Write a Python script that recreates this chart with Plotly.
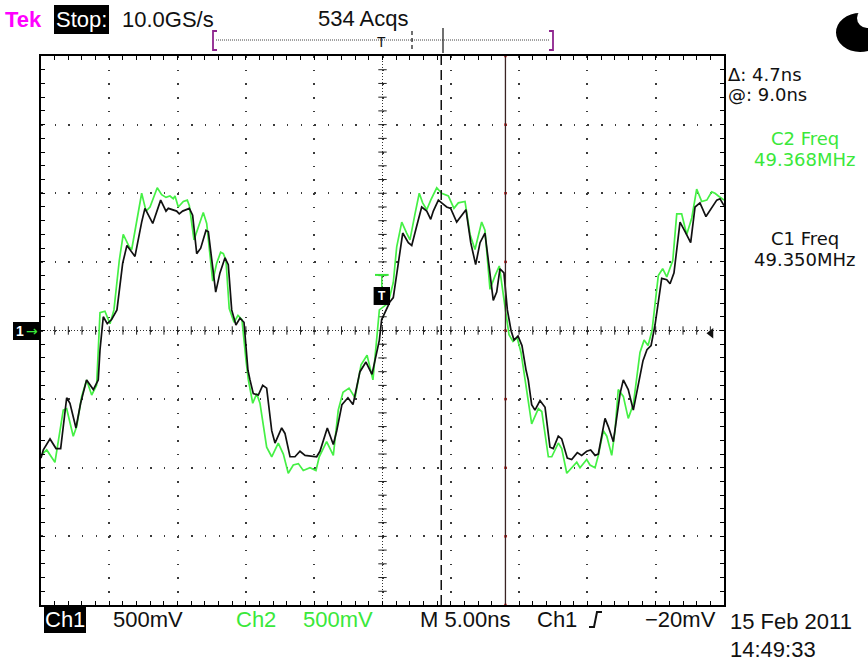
import plotly.graph_objects as go

# ---- acquisition record (time in ns relative to trigger, amplitude in V) ----
C1_T = [-25.0, -24.83, -24.34, -23.90, -23.56, -23.12, -22.88, -22.44, -22.10, -21.66,
        -21.17, -20.81, -20.68, -20.54, -20.44, -20.15, -19.83, -19.44, -19.02, -18.71,
        -18.12, -17.63, -17.39, -16.82, -16.24, -15.85, -15.68, -15.07, -14.88, -14.63,
        -14.14, -13.90, -13.60, -13.31, -12.92, -12.75, -12.21, -11.90, -11.53, -11.29,
        -11.04, -10.73, -10.43, -10.14, -9.85, -9.70, -9.46, -9.09, -8.77, -8.48,
        -8.11, -7.87, -7.38, -7.14, -6.77, -6.41, -6.04, -5.67, -4.82, -4.58,
        -4.04, -3.60, -3.35, -2.97, -2.53, -2.16, -1.65, -1.21, -0.77, -0.23,
        -0.06, 0.55, 0.79, 1.10, 1.48, 1.89, 2.14, 2.50, 2.87, 3.24,
        3.53, 3.72, 4.09, 4.33, 4.70, 4.99, 5.43, 6.11, 6.46, 6.82,
        7.14, 7.50, 7.75, 8.11, 8.36, 8.60, 8.89, 9.14, 9.41, 9.63,
        9.92, 10.21, 10.51, 10.67, 10.92, 11.16, 11.53, 11.90, 12.26, 12.50,
        12.87, 13.12, 13.53, 13.85, 14.26, 14.58, 14.95, 15.24, 15.56, 15.80,
        16.29, 16.53, 16.90, 17.15, 17.39, 17.63, 17.99, 18.36, 18.61, 18.80,
        19.07, 19.36, 19.66, 19.95, 20.12, 20.44, 20.81, 21.05, 21.34, 21.78,
        22.15, 22.56, 22.88, 23.24, 23.68, 24.10, 24.47, 24.71, 25.0]
C1_V = [-0.93, -0.87, -0.79, -0.86, -0.86, -0.49, -0.53, -0.71, -0.53, -0.36,
        -0.43, -0.36, -0.14, 0.00, 0.10, 0.05, 0.08, 0.15, 0.49, 0.62,
        0.54, 0.79, 0.89, 0.78, 0.95, 0.87, 0.89, 0.87, 0.85, 0.87,
        0.89, 0.84, 0.56, 0.60, 0.73, 0.72, 0.28, 0.42, 0.53, 0.48,
        0.15, 0.04, 0.09, 0.06, -0.29, -0.36, -0.46, -0.47, -0.40, -0.42,
        -0.73, -0.82, -0.71, -0.75, -0.92, -0.92, -0.88, -0.91, -0.92, -0.88,
        -0.71, -0.83, -0.73, -0.54, -0.49, -0.54, -0.30, -0.23, -0.32, -0.07,
        0.08, 0.21, 0.24, 0.45, 0.71, 0.64, 0.62, 0.76, 0.90, 0.87,
        0.81, 0.87, 0.95, 0.93, 0.90, 0.89, 0.79, 0.88, 0.64, 0.48,
        0.64, 0.71, 0.49, 0.22, 0.28, 0.45, 0.42, 0.15, 0.00, -0.07,
        -0.04, -0.11, -0.29, -0.36, -0.54, -0.58, -0.51, -0.56, -0.85, -0.86,
        -0.77, -0.79, -0.93, -0.94, -0.89, -0.91, -0.88, -0.87, -0.91, -0.90,
        -0.64, -0.70, -0.81, -0.63, -0.46, -0.36, -0.43, -0.58, -0.46, -0.36,
        -0.22, -0.14, -0.11, 0.04, 0.17, 0.38, 0.37, 0.34, 0.42, 0.79,
        0.72, 0.64, 0.90, 0.93, 0.83, 0.89, 0.95, 0.96, 0.91]

C2_T = [-25.0, -24.58, -23.98, -23.37, -23.12, -22.64, -22.39, -22.02, -21.66, -21.29,
        -20.93, -20.68, -20.32, -19.95, -19.66, -19.27, -18.98, -18.54, -18.36, -17.99,
        -17.63, -17.31, -17.02, -16.49, -16.17, -15.85, -15.56, -15.32, -15.19, -14.95,
        -14.58, -14.29, -14.14, -13.80, -13.56, -13.12, -12.87, -12.43, -12.14, -11.85,
        -11.65, -11.46, -11.22, -10.87, -10.58, -10.29, -9.99, -9.82, -9.50, -9.21,
        -8.97, -8.48, -8.11, -7.63, -7.26, -6.90, -6.53, -6.16, -5.80, -5.31,
        -4.87, -4.63, -4.09, -3.60, -3.24, -2.89, -2.45, -2.01, -1.57, -1.13,
        -0.70, -0.42, -0.23, 0.42, 0.79, 1.04, 1.41, 1.77, 2.01, 2.38,
        2.69, 2.94, 3.24, 3.53, 3.97, 4.33, 4.82, 5.23, 5.55, 6.04,
        6.41, 6.77, 7.26, 7.50, 7.87, 8.24, 8.55, 8.97, 9.26, 9.55,
        9.85, 10.14, 10.56, 10.92, 11.41, 11.66, 12.14, 12.39, 12.87, 13.12,
        13.49, 13.85, 14.22, 14.46, 14.95, 15.19, 15.56, 15.80, 16.17, 16.42,
        16.78, 17.02, 17.26, 17.63, 17.99, 18.36, 18.61, 18.85, 19.15, 19.44,
        19.73, 19.95, 20.19, 20.51, 20.81, 21.25, 21.54, 21.90, 22.27, 22.64,
        23.00, 23.37, 23.74, 24.10, 24.34, 24.59, 25.0]
C2_V = [-0.91, -0.87, -0.96, -0.58, -0.57, -0.77, -0.70, -0.48, -0.36, -0.47,
        -0.40, 0.13, 0.14, 0.05, 0.15, 0.51, 0.70, 0.61, 0.59, 0.81,
        1.00, 0.87, 0.90, 1.04, 0.99, 0.97, 0.98, 0.96, 0.98, 0.90,
        0.94, 0.95, 0.91, 0.66, 0.73, 0.86, 0.78, 0.36, 0.49, 0.57,
        0.56, 0.51, 0.16, 0.06, 0.11, 0.08, -0.22, -0.36, -0.53, -0.46,
        -0.53, -0.85, -0.92, -0.82, -0.90, -1.04, -0.98, -0.97, -1.02, -1.00,
        -1.02, -0.92, -0.81, -0.91, -0.58, -0.45, -0.42, -0.49, -0.25, -0.18,
        -0.36, -0.07, 0.15, 0.20, 0.35, 0.61, 0.79, 0.71, 0.66, 0.85,
        1.00, 0.93, 0.88, 0.95, 1.04, 1.00, 0.98, 0.89, 0.93, 0.94,
        0.70, 0.59, 0.79, 0.73, 0.30, 0.40, 0.47, 0.17, -0.03, -0.08,
        -0.05, -0.16, -0.43, -0.68, -0.57, -0.59, -0.92, -0.92, -0.82, -0.86,
        -1.04, -1.00, -0.96, -1.00, -0.94, -0.98, -1.00, -0.91, -0.73, -0.77,
        -0.91, -0.73, -0.43, -0.48, -0.64, -0.54, -0.36, -0.16, -0.07, -0.11,
        0.00, 0.20, 0.40, 0.45, 0.39, 0.51, 0.85, 0.85, 0.70, 0.82,
        1.03, 0.94, 0.95, 1.01, 1.00, 0.98, 0.95]

# ---- instrument settings ----
NS_PER_DIV = 5.0
V_PER_DIV = 0.5
H_DIVS = 10
V_DIVS = 8
CURSOR_A_NS = 4.3
CURSOR_B_NS = 9.0
TRIG_LEVEL_V = -0.02

HEADER = ["Stop:", "10.0GS/s", "534 Acqs"]
READOUT = ["\u0394: 4.7ns", "@: 9.0ns"]
MEAS = [("C2 Freq", "49.368MHz"), ("C1 Freq", "49.350MHz")]
FOOTER = ["Ch1", "500mV", "Ch2", "500mV", "M 5.00ns", "Ch1", "\u221220mV"]
STAMP = ["15 Feb 2011", "14:49:33"]

GREEN = "#3ae83a"
TRACE_GREEN = "#45f045"
INK = "#111111"
MAGENTA = "#ff00ff"
BRACKET = "#8e248e"

W, H = 868, 661
PL, PR, PT, PB = 41, 724, 56, 605
FONT_N = "Liberation Sans, Arial, sans-serif"
FONT_W = "DejaVu Sans, Verdana, sans-serif"

t_half = NS_PER_DIV * H_DIVS / 2
v_half = V_PER_DIV * V_DIVS / 2


def fx(px):
    return (px - PL) / (PR - PL)


def fy(py):
    return (PB - py) / (PB - PT)


fig = go.Figure()

# center-cross tick marks (every 1/5 division)
n_h = int(H_DIVS * 5)
n_v = int(V_DIVS * 5)
cx_ticks = [-t_half + i * NS_PER_DIV / 5 for i in range(1, n_h)]
cy_ticks = [-v_half + i * V_PER_DIV / 5 for i in range(1, n_v)]
fig.add_trace(go.Scatter(x=cx_ticks, y=[0] * len(cx_ticks), mode="markers",
                         marker=dict(symbol="line-ns", size=6, line=dict(width=1, color="#222")),
                         hoverinfo="skip", showlegend=False))
fig.add_trace(go.Scatter(x=[0] * len(cy_ticks), y=cy_ticks, mode="markers",
                         marker=dict(symbol="line-ew", size=6, line=dict(width=1, color="#222")),
                         hoverinfo="skip", showlegend=False))

# waveforms
fig.add_trace(go.Scatter(x=C2_T, y=C2_V, mode="lines", name="Ch2",
                         line=dict(color=TRACE_GREEN, width=1.7), showlegend=False))
fig.add_trace(go.Scatter(x=C1_T, y=C1_V, mode="lines", name="Ch1",
                         line=dict(color=INK, width=1.7), showlegend=False))

# cursor B graticule crossings
grid_v = [-v_half + i * V_PER_DIV for i in range(V_DIVS + 1)]
fig.add_trace(go.Scatter(x=[CURSOR_B_NS] * len(grid_v), y=grid_v, mode="markers",
                         marker=dict(symbol="square", size=2.5, color="#e02020"),
                         hoverinfo="skip", showlegend=False, cliponaxis=False))

# trigger level indicator at right edge
fig.add_trace(go.Scatter(x=[24.05], y=[TRIG_LEVEL_V], mode="markers",
                         marker=dict(symbol="triangle-left", size=9, color=INK),
                         hoverinfo="skip", showlegend=False))

shapes = []
# dense dotted center cross
shapes.append(dict(type="line", xref="x", yref="y", x0=-t_half, x1=t_half, y0=0, y1=0,
                   line=dict(color="#333", width=1, dash="1px,2px"), layer="below"))
shapes.append(dict(type="line", xref="x", yref="y", x0=0, x1=0, y0=-v_half, y1=v_half,
                   line=dict(color="#333", width=1, dash="1px,2px"), layer="below"))
# cursors
shapes.append(dict(type="line", xref="x", yref="y", x0=CURSOR_A_NS, x1=CURSOR_A_NS,
                   y0=-v_half, y1=v_half, line=dict(color=INK, width=1.5, dash="10px,5px")))
shapes.append(dict(type="line", xref="x", yref="y", x0=CURSOR_B_NS, x1=CURSOR_B_NS,
                   y0=-v_half, y1=v_half, line=dict(color="#3a2424", width=1.3)))

# trigger point marker on screen
shapes.append(dict(type="rect", xref="x", yref="y", x0=-0.65, x1=0.55, y0=0.186, y1=0.317,
                   fillcolor="black", line=dict(width=0)))
shapes.append(dict(type="line", xref="x", yref="y", x0=-0.55, x1=0.45, y0=0.405, y1=0.405,
                   line=dict(color=GREEN, width=2)))
shapes.append(dict(type="line", xref="x", yref="y", x0=-0.05, x1=-0.05, y0=0.317, y1=0.405,
                   line=dict(color=GREEN, width=1.5)))


# record-window bar in header
def pline(x0, y0, x1, y1, color, width=1.5, dash=None):
    ln = dict(color=color, width=width)
    if dash:
        ln["dash"] = dash
    return dict(type="line", xref="paper", yref="paper", x0=fx(x0), x1=fx(x1),
                y0=fy(y0), y1=fy(y1), line=ln)


shapes.append(pline(216, 40, 550, 40, "#444", 1, "1px,1px"))
shapes.append(dict(type="path", xref="paper", yref="paper",
                   path=f"M {fx(217)},{fy(31)} L {fx(213)},{fy(31)} L {fx(213)},{fy(50)} L {fx(217)},{fy(50)}",
                   line=dict(color=BRACKET, width=1.8)))
shapes.append(dict(type="path", xref="paper", yref="paper",
                   path=f"M {fx(549)},{fy(31)} L {fx(553)},{fy(31)} L {fx(553)},{fy(50)} L {fx(549)},{fy(50)}",
                   line=dict(color=BRACKET, width=1.8)))
shapes.append(pline(412, 31, 412, 50, INK, 1.2, "4px,3px"))
shapes.append(pline(443, 28, 443, 53, INK, 1.2))

# trigger slope glyph in footer
shapes.append(dict(type="path", xref="paper", yref="paper",
                   path=(f"M {fx(589)},{fy(627)} L {fx(594)},{fy(627)} L {fx(597)},{fy(612)} "
                         f"L {fx(602)},{fy(612)}"),
                   line=dict(color=INK, width=2)))

# ground marker box on left
shapes.append(dict(type="rect", xref="paper", yref="paper", x0=fx(13), x1=fx(41),
                   y0=fy(340), y1=fy(322), fillcolor="black", line=dict(width=0)))

# status indicator in top-right corner
shapes.append(dict(type="circle", xref="paper", yref="paper", x0=fx(836), x1=fx(884),
                   y0=fy(52), y1=fy(13), fillcolor="black", line=dict(width=0)))
shapes.append(dict(type="circle", xref="paper", yref="paper", x0=fx(857), x1=fx(877),
                   y0=fy(28), y1=fy(8), fillcolor="white", line=dict(width=0)))

annotations = []


def label(text, x, y, size=22, color=INK, xanchor="left", family=FONT_N, bg=None, pad=0):
    a = dict(text=text, x=fx(x), y=fy(y), xref="paper", yref="paper", showarrow=False,
             xanchor=xanchor, yanchor="middle", font=dict(size=size, color=color, family=family),
             borderpad=pad, borderwidth=0)
    if bg:
        a["bgcolor"] = bg
    annotations.append(a)


# header
label("<b>Tek</b>", 5, 19, size=22, color=MAGENTA)
label(HEADER[0], 54, 19, color="white", bg="black", pad=2)
label(HEADER[1], 122, 19)
label(HEADER[2], 318, 18)
label("T", 381, 42, size=14, xanchor="center")

# cursor readouts and measurements
RSIZE = 18
label(READOUT[0], 728, 74, size=RSIZE, family=FONT_W)
label(READOUT[1], 728, 95, size=RSIZE, family=FONT_W)
label(MEAS[0][0], 805, 138, size=RSIZE, family=FONT_W, color=GREEN, xanchor="center")
label(MEAS[0][1], 805, 159, size=RSIZE, family=FONT_W, color=GREEN, xanchor="center")
label(MEAS[1][0], 805, 238, size=RSIZE, family=FONT_W, xanchor="center")
label(MEAS[1][1], 805, 259, size=RSIZE, family=FONT_W, xanchor="center")

# footer
label(FOOTER[0], 44, 619, color="white", bg="black", pad=1)
label(FOOTER[1], 113, 619)
label(FOOTER[2], 236, 619, color=GREEN)
label(FOOTER[3], 303, 619, color=GREEN)
label(FOOTER[4], 420, 619)
label(FOOTER[5], 537, 619)
label(FOOTER[6], 716, 619, xanchor="right")
label(STAMP[0], 730, 621)
label(STAMP[1], 730, 649)

# ground marker text and trigger point glyph
label("<b>1</b>", 16, 331, size=14, color="white")
label("\u2192", 26, 331, size=14, color=GREEN, family=FONT_W)
annotations.append(dict(text="<b>T</b>", x=-0.05, y=0.25, xref="x", yref="y", showarrow=False,
                        font=dict(size=12, color="white", family=FONT_N)))

axis_common = dict(showticklabels=False, zeroline=False, showline=True, linecolor="black",
                   linewidth=1.5, mirror="allticks", ticks="inside", ticklen=4,
                   tickcolor="black", tickwidth=1, showgrid=True, gridcolor="#3a3a3a",
                   gridwidth=1.5, fixedrange=True)

fig.update_layout(
    width=W, height=H,
    margin=dict(l=PL, r=W - PR, t=PT, b=H - PB, pad=0),
    paper_bgcolor="white", plot_bgcolor="white",
    xaxis=dict(range=[-t_half, t_half], dtick=NS_PER_DIV, tick0=0,
               griddash="1.5px,12.22px",
               minor=dict(dtick=NS_PER_DIV / 5, ticks="inside", ticklen=4,
                          tickcolor="black", showgrid=False),
               **axis_common),
    yaxis=dict(range=[-v_half, v_half], dtick=V_PER_DIV, tick0=0,
               griddash="1.5px,12.16px",
               minor=dict(dtick=V_PER_DIV / 5, ticks="inside", ticklen=4,
                          tickcolor="black", showgrid=False),
               **axis_common),
    shapes=shapes,
    annotations=annotations,
    showlegend=False,
)

fig.write_html("out.html", config={"displayModeBar": False})
